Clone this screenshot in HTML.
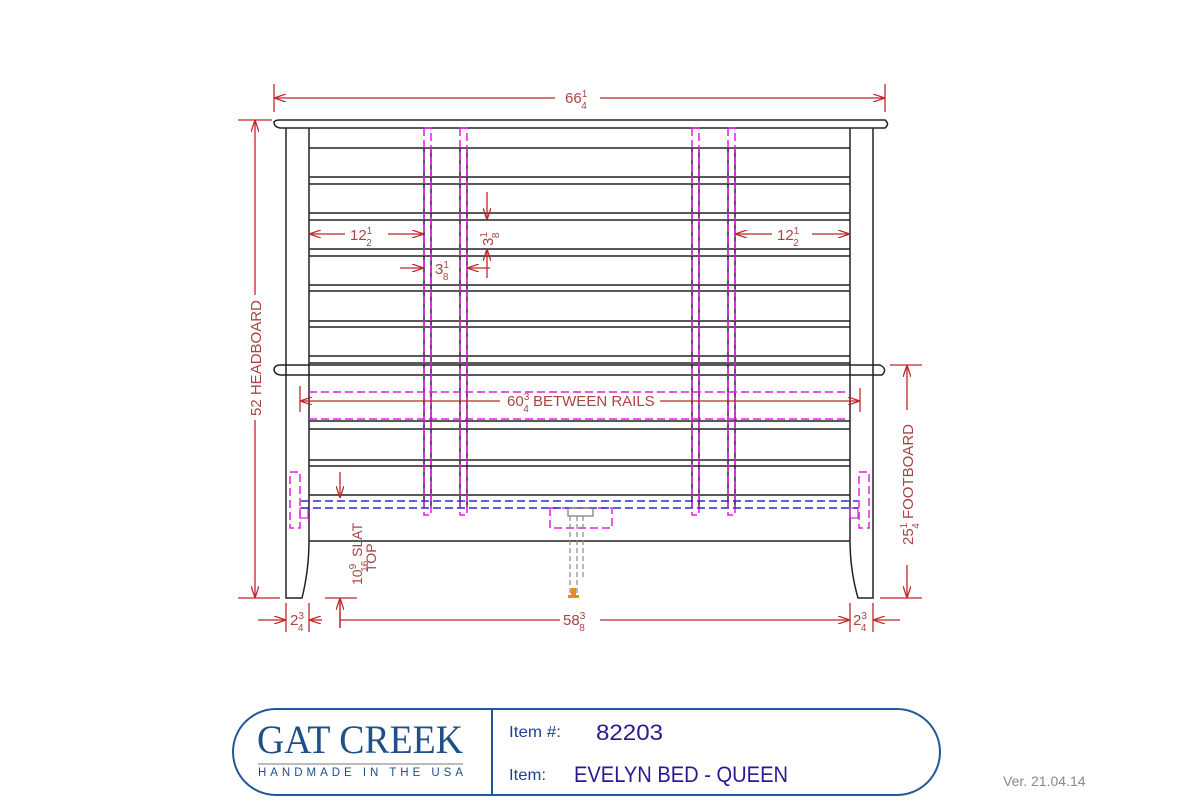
<!DOCTYPE html>
<html><head><meta charset="utf-8"><style>
html,body{margin:0;padding:0;background:#fff;}
svg{display:block}
text{font-family:"Liberation Sans",sans-serif}
</style></head><body>
<svg width="1200" height="800" viewBox="0 0 1200 800" xmlns="http://www.w3.org/2000/svg">
<defs>
<marker id="a" viewBox="0 0 12 8" refX="12" refY="4" markerWidth="12" markerHeight="8" orient="auto-start-reverse" markerUnits="userSpaceOnUse">
<path d="M0,0 L12,4 L0,8" fill="none" stroke="#c0262a" stroke-width="1.3"/></marker>
</defs>
<g fill="none" stroke="#222" stroke-width="1.5">
<path d="M280,120 H885 Q890,124 885,128 H280 Q274,127 274,122 Q275,120 280,120 Z"/>
<path d="M280,365 H880 Q888,369 882,375 H280 Q274,374 274,369 Q275,365 280,365 Z"/>
<path d="M286,128 V598 H302 Q309,570 309,540 V128"/>
<path d="M873,128 V598 H858 Q850,570 850,540 V128"/>
<path d="M309,148H850 M309,177H850 M309,184H850 M309,213H850 M309,220H850 M309,249H850 M309,256H850 M309,285H850 M309,291H850 M309,321H850 M309,327H850 M309,356H850 M309,363H850 M309,421H850 M309,429H850 M309,460H850 M309,466H850 M309,495H850 M309,541H850"/>
<path d="M424,148V508 M431,148V508 M460,148V508 M467,148V508 M692,148V508 M699,148V508 M728,148V508 M735,148V508"/>
</g>
<g fill="none" stroke="#e020e0" stroke-width="1.5" stroke-dasharray="8,4">
<path d="M424,128V515H431V128Z M460,128V515H467V128Z M692,128V515H699V128Z M728,128V515H735V128Z"/>
<path d="M309,392H850 M309,419H850"/>
<rect x="290" y="472" width="10" height="56"/>
<rect x="859" y="472" width="10" height="56"/>
<rect x="550" y="508" width="62" height="20"/>
</g>
<rect x="300" y="508" width="8" height="10" fill="none" stroke="#e020e0" stroke-width="1.2"/>
<rect x="850" y="508" width="8" height="10" fill="none" stroke="#e020e0" stroke-width="1.2"/>
<g fill="none" stroke="#2a2ad0" stroke-width="1.5" stroke-dasharray="8,4">
<path d="M301,501H858 M301,508H858"/>
</g>
<rect x="568" y="508" width="25" height="8" fill="none" stroke="#777" stroke-width="1.2"/>
<g stroke="#888" stroke-width="1.2" stroke-dasharray="5,3"><path d="M570,516V595 M577,516V595 M583,516V580"/></g>
<rect x="571" y="588" width="5" height="8" fill="#f08a10"/><rect x="568" y="595" width="11" height="3" fill="#f08a10"/>
<g stroke="#c0262a" stroke-width="1.3" fill="none">
<path d="M274,84V112 M885,84V112"/>
<path d="M274,98H555" marker-start="url(#a)"/><path d="M600,98H885" marker-end="url(#a)"/>
<path d="M238,120H272 M238,598H280"/>
<path d="M255,120V295" marker-start="url(#a)"/><path d="M255,420V598" marker-end="url(#a)"/>
<path d="M890,365H922 M880,598H922"/>
<path d="M907,365V410" marker-start="url(#a)"/><path d="M907,565V598" marker-end="url(#a)"/>
<path d="M286,603V632 M309,603V632 M850,603V632 M873,603V632"/>
<path d="M258,620H286" marker-end="url(#a)"/><path d="M322,620H309" marker-end="url(#a)"/>
<path d="M900,620H873" marker-end="url(#a)"/><path d="M838,620H850" marker-end="url(#a)"/>
<path d="M340,620H560 M600,620H838"/>
<path d="M325,598H357 M340,598V628"/>
<path d="M340,628V598" marker-end="url(#a)"/>
<path d="M340,472V498" marker-end="url(#a)"/>
<path d="M300,386V412 M860,388V412"/>
<path d="M300,401H500" marker-start="url(#a)"/><path d="M660,401H860" marker-end="url(#a)"/>
<path d="M309,234H345" marker-start="url(#a)"/><path d="M388,234H424" marker-end="url(#a)"/>
<path d="M735,234H772" marker-start="url(#a)"/><path d="M812,234H850" marker-end="url(#a)"/>
<path d="M400,268H424" marker-end="url(#a)"/><path d="M490,268H467" marker-end="url(#a)"/>
<path d="M487,192V220" marker-end="url(#a)"/><path d="M487,278V249" marker-end="url(#a)"/>
</g>
<g fill="#a84444" font-size="15">
<text x="565" y="103">66<tspan font-size="10" dy="-6">1</tspan><tspan font-size="10" dx="-6" dy="12">4</tspan></text>
<text x="350" y="240">12<tspan font-size="10" dy="-6">1</tspan><tspan font-size="10" dx="-6" dy="12">2</tspan></text>
<text x="777" y="240">12<tspan font-size="10" dy="-6">1</tspan><tspan font-size="10" dx="-6" dy="12">2</tspan></text>
<text x="435" y="274">3<tspan font-size="10" dy="-6">1</tspan><tspan font-size="10" dx="-6" dy="12">8</tspan></text>
<text transform="translate(493,246) rotate(-90)">3<tspan font-size="10" dy="-6">1</tspan><tspan font-size="10" dx="-6" dy="12">8</tspan></text>
<text x="507" y="406">60<tspan font-size="10" dy="-6">3</tspan><tspan font-size="10" dx="-6" dy="12">4</tspan><tspan dy="-6"> BETWEEN RAILS</tspan></text>
<text x="563" y="625">58<tspan font-size="10" dy="-6">3</tspan><tspan font-size="10" dx="-6" dy="12">8</tspan></text>
<text x="290" y="625">2<tspan font-size="10" dy="-6">3</tspan><tspan font-size="10" dx="-6" dy="12">4</tspan></text>
<text x="853" y="625">2<tspan font-size="10" dy="-6">3</tspan><tspan font-size="10" dx="-6" dy="12">4</tspan></text>
<text transform="translate(261,416) rotate(-90)">52 HEADBOARD</text>
<text transform="translate(913,545) rotate(-90)">25<tspan font-size="10" dy="-6">1</tspan><tspan font-size="10" dx="-6" dy="12">4</tspan><tspan dy="-6"> FOOTBOARD</tspan></text>
<text transform="translate(362,585) rotate(-90)" font-size="14">10<tspan font-size="10" dy="-6">9</tspan><tspan font-size="10" dx="-8" dy="12">16</tspan><tspan dy="-6"> SLAT</tspan></text>
<text transform="translate(376,572) rotate(-90)" font-size="14">TOP</text>
</g>
<rect x="233" y="709" width="707" height="86" rx="43" ry="43" fill="none" stroke="#1e5a9a" stroke-width="2"/>
<line x1="492" y1="709" x2="492" y2="795" stroke="#1e5a9a" stroke-width="2"/>
<text x="257" y="753" style="font-family:'Liberation Serif',serif" font-size="40" fill="#1e4f86" textLength="206" lengthAdjust="spacingAndGlyphs">GAT CREEK</text>
<line x1="258" y1="764" x2="463" y2="764" stroke="#777" stroke-width="1"/>
<text x="258" y="776" font-size="11.5" fill="#1e4f86" textLength="205" lengthAdjust="spacing">HANDMADE IN THE USA</text>
<text x="509" y="737" font-size="16" fill="#1e3f9a" textLength="52" lengthAdjust="spacingAndGlyphs">Item #:</text>
<text x="596" y="740" font-size="22" fill="#2a1a90" textLength="67" lengthAdjust="spacingAndGlyphs">82203</text>
<text x="509" y="780" font-size="16" fill="#1e3f9a" textLength="37" lengthAdjust="spacingAndGlyphs">Item:</text>
<text x="574" y="782" font-size="22" fill="#2a1a90" textLength="214" lengthAdjust="spacingAndGlyphs">EVELYN BED - QUEEN</text>
<text x="1003" y="786" font-size="14" fill="#888">Ver. 21.04.14</text>
</svg>
</body></html>
